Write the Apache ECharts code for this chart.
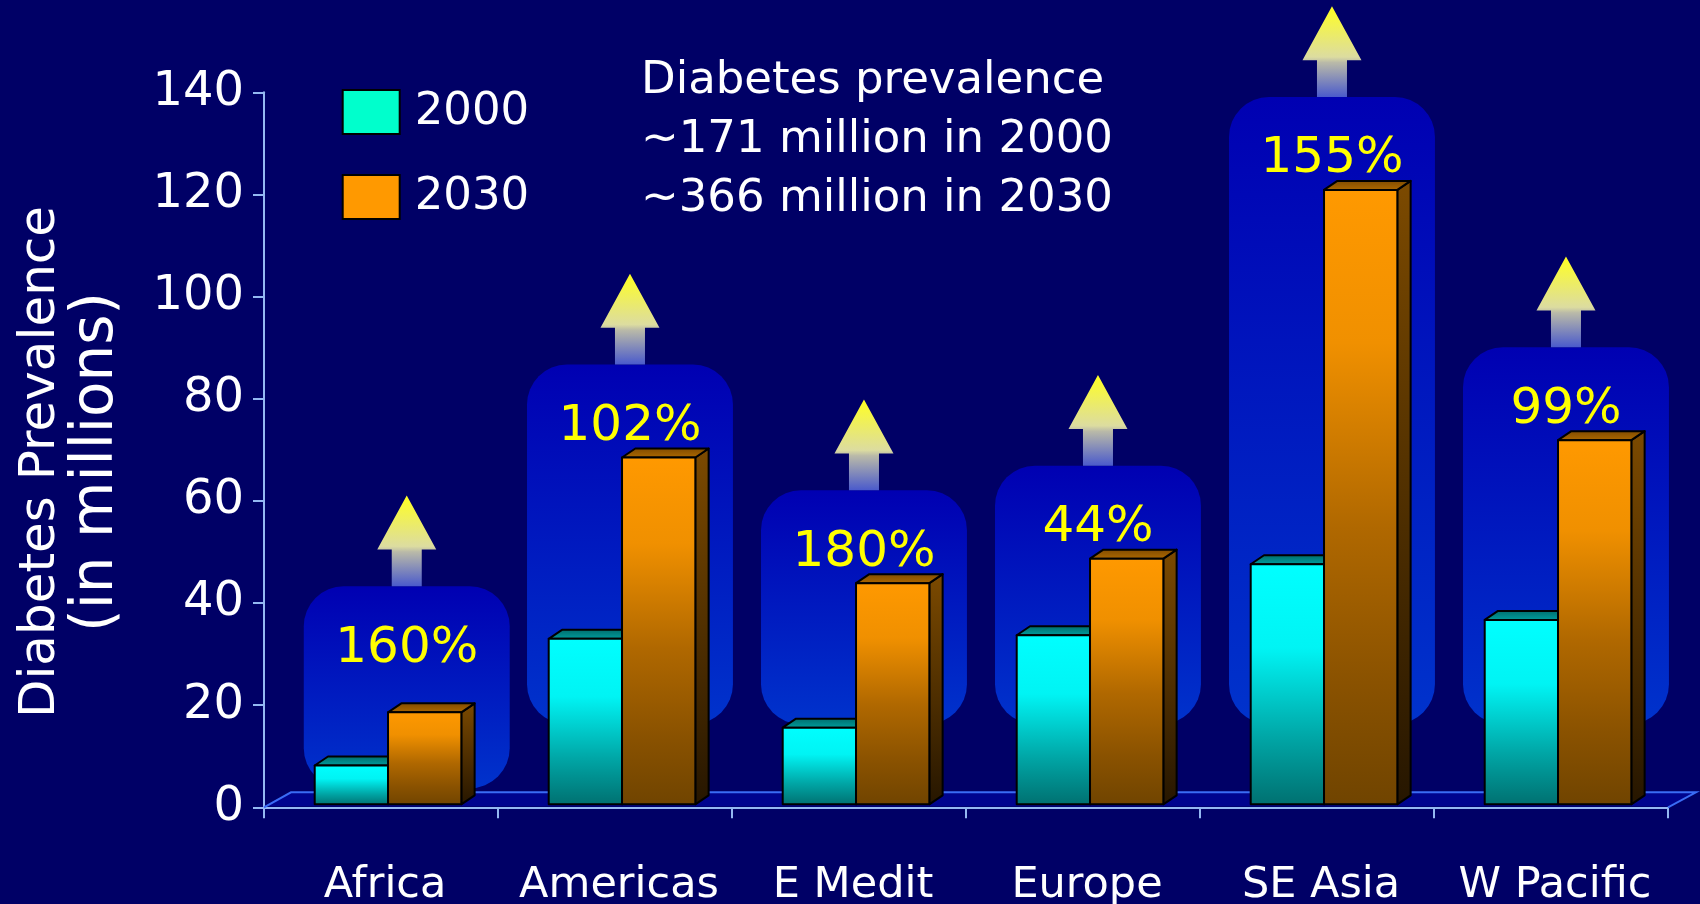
<!DOCTYPE html>
<html>
<head>
<meta charset="utf-8">
<title>Diabetes Prevalence 2000 vs 2030</title>
<script src="https://cdn.jsdelivr.net/npm/echarts@6.0.0/dist/echarts.min.js"></script>
<style>
  html, body { margin: 0; padding: 0; background: #000066; }
  #chart { width: 1700px; height: 904px; }
</style>
</head>
<body>
<div id="chart"></div>
<script>
// Regional diabetes prevalence, millions of people
const regions = ['Africa', 'Americas', 'E Medit', 'Europe', 'SE Asia', 'W Pacific'];
const prevalence2000 = [7.6, 32.4, 15.0, 33.1, 47.0, 36.1];
const prevalence2030 = [18.0, 67.9, 43.3, 48.1, 120.3, 71.3];
const increaseLabels = ['160%', '102%', '180%', '44%', '155%', '99%'];
const yTicks = { min: 0, max: 140, step: 20 };

const FONT = "'DejaVu Sans', Verdana, sans-serif";
const AXIS_BLUE = '#94b8f2';
const FLOOR_EDGE = '#3a6cf5';

// pseudo-3D geometry (pixels)
const FACE_LIFT = 3;       // bar front face sits slightly behind the floor edge
const BAR_DX = 13.3, BAR_DY = 9;
const FLOOR_DX = 27, FLOOR_DY = 15;

const chart = echarts.init(document.getElementById('chart'), null, { renderer: 'canvas' });

function lg(stops) {
  return new echarts.graphic.LinearGradient(0, 0, 0, 1,
    stops.map(s => ({ offset: s[0], color: s[1] })));
}

const barStyles = [
  {
    front: [[0, '#00ffff'], [0.35, '#00f4f4'], [0.72, '#00a6a6'], [1, '#007070']],
    top: [[0, '#006a6a'], [1, '#00a0a0']],
    side: [[0, '#006060'], [1, '#002020']]
  },
  {
    front: [[0, '#ff9900'], [0.25, '#f09000'], [0.55, '#b06800'], [0.8, '#8a5200'], [1, '#704400']],
    top: [[0, '#7e4a00'], [1, '#b06a00']],
    side: [[0, '#7c4a00'], [1, '#261600']]
  }
];

function makeBarRenderer(slot) {
  const st = barStyles[slot];
  return function (params, api) {
    const ci = api.value(0);
    const v = api.value(1);
    const zero = api.coord([ci, 0]);
    const topPt = api.coord([ci, v]);
    const band = api.size([1, 0])[0];
    const w = band * 0.3133;
    const shift = band * 0.03;
    const x0 = zero[0] + shift + (slot === 0 ? -w : 0);
    const x1 = x0 + w;
    const yb = zero[1] - FACE_LIFT;
    const yt = topPt[1] - FACE_LIFT;
    const stroke = { stroke: '#000', lineWidth: 2, lineJoin: 'round' };
    return {
      type: 'group',
      children: [
        {
          type: 'polygon',
          shape: { points: [[x1, yt], [x1 + BAR_DX, yt - BAR_DY], [x1 + BAR_DX, yb - BAR_DY], [x1, yb]] },
          style: Object.assign({ fill: lg(st.side) }, stroke)
        },
        {
          type: 'polygon',
          shape: { points: [[x0, yt], [x0 + BAR_DX, yt - BAR_DY], [x1 + BAR_DX, yt - BAR_DY], [x1, yt]] },
          style: Object.assign({ fill: lg(st.top) }, stroke)
        },
        {
          type: 'rect',
          shape: { x: x0, y: yt, width: w, height: yb - yt },
          style: Object.assign({ fill: lg(st.front) }, stroke)
        }
      ]
    };
  };
}

// floor plane under the bars
function renderFloor(params, api) {
  const cs = params.coordSys;
  const xl = cs.x, xr = cs.x + cs.width, yf = cs.y + cs.height;
  const yk = yf - FLOOR_DY;
  return {
    type: 'group',
    children: [
      {
        type: 'polygon',
        shape: { points: [[xl, yf - 1], [xl + FLOOR_DX, yk], [xr + FLOOR_DX + 1, yk], [xr, yf - 1]] },
        style: { fill: '#00048e' }
      },
      {
        type: 'polyline',
        shape: { points: [[xl, yf], [xl + FLOOR_DX, yk], [xr + FLOOR_DX + 1, yk], [xr, yf]] },
        style: { stroke: FLOOR_EDGE, lineWidth: 2, fill: null }
      }
    ]
  };
}

// rounded growth panels with arrow and percentage
function renderCallout(params, api) {
  const ci = api.value(0);
  const v = api.value(1);
  const peak = api.coord([ci, v]);
  const zero = api.coord([ci, 0]);
  const band = api.size([1, 0])[0];
  const base = zero[1] - FACE_LIFT;
  const boxTop = Math.min(peak[1] - FACE_LIFT - 93, base - 218);
  const boxBottom = Math.max(boxTop + 202, base - 80);
  // short panels sit a little further right
  const cx = peak[0] + band * (boxBottom - boxTop < 210 ? 0.11 : 0.064);
  const halfW = band * 0.44;
  const headBase = boxTop - 36.7;
  const tip = boxTop - 90.7;
  return {
    type: 'group',
    children: [
      {
        type: 'rect',
        shape: { x: cx - halfW, y: boxTop, width: halfW * 2, height: boxBottom - boxTop, r: 40 },
        style: { fill: lg([[0, '#0000b2'], [1, '#0033cc']]) }
      },
      {
        type: 'polygon',
        shape: {
          points: [[cx, tip], [cx + 29.5, headBase], [cx + 15, headBase], [cx + 15, boxTop],
                   [cx - 15, boxTop], [cx - 15, headBase], [cx - 29.5, headBase]]
        },
        style: { fill: lg([[0, '#ffff22'], [0.56, '#dcdca0'], [0.62, '#babaa8'], [1, '#4a5acc']]) }
      },
      {
        type: 'text',
        x: cx,
        y: boxTop + 62.5,
        style: {
          text: increaseLabels[params.dataIndex],
          fill: '#ffff00',
          font: '50px ' + FONT,
          align: 'center',
          verticalAlign: 'middle'
        }
      }
    ]
  };
}

const option = {
  backgroundColor: '#000066',
  animation: false,
  grid: { left: 264, right: 32, top: 92.3, bottom: 96.7, outerBoundsMode: 'none' },
  legend: {
    orient: 'vertical',
    left: 341.7,
    top: 89,
    padding: 0,
    itemWidth: 57,
    itemHeight: 44,
    itemGap: 39,
    icon: 'rect',
    selectedMode: false,
    data: [
      { name: '2000', itemStyle: { color: '#00ffcc', borderColor: '#000', borderWidth: 2 } },
      { name: '2030', itemStyle: { color: '#ff9900', borderColor: '#000', borderWidth: 2 } }
    ],
    textStyle: { color: '#ffffff', fontSize: 45, fontFamily: FONT, lineHeight: 44, padding: [0, 0, 0, 10] }
  },
  xAxis: {
    type: 'category',
    data: regions,
    axisLine: { show: true, lineStyle: { color: AXIS_BLUE, width: 2 } },
    axisTick: { show: true, interval: 0, length: 11, lineStyle: { color: AXIS_BLUE, width: 2 } },
    axisLabel: { interval: 0, color: '#ffffff', fontSize: 43, fontFamily: FONT, margin: 57, padding: [0, 0, 0, 8] },
    splitLine: { show: false }
  },
  yAxis: {
    type: 'value',
    min: yTicks.min,
    max: yTicks.max,
    interval: yTicks.step,
    axisLine: { show: true, lineStyle: { color: AXIS_BLUE, width: 2 } },
    axisTick: { show: true, length: 11, lineStyle: { color: AXIS_BLUE, width: 2 } },
    axisLabel: { color: '#ffffff', fontSize: 48, fontFamily: FONT, margin: 20, padding: [8, 0, 0, 0] },
    splitLine: { show: false }
  },
  graphic: [
    {
      type: 'text',
      x: 41,
      y: 462,
      rotation: Math.PI / 2,
      style: {
        text: 'Diabetes Prevalence',
        fill: '#ffffff',
        font: '50px ' + FONT,
        align: 'center',
        verticalAlign: 'middle'
      }
    },
    {
      type: 'text',
      x: 97,
      y: 462,
      rotation: Math.PI / 2,
      style: {
        text: '(in millions)',
        fill: '#ffffff',
        font: '58px ' + FONT,
        align: 'center',
        verticalAlign: 'middle'
      }
    },
    {
      type: 'text',
      left: 641,
      top: 52,
      style: {
        text: 'Diabetes prevalence\n~171 million in 2000\n~366 million in 2030',
        fill: '#ffffff',
        font: '45px ' + FONT,
        lineHeight: 59
      }
    }
  ],
  series: [
    {
      type: 'custom',
      name: 'floor',
      silent: true,
      clip: false,
      renderItem: renderFloor,
      data: [[0, 0]],
      z: 1
    },
    {
      type: 'custom',
      name: 'growth',
      silent: true,
      clip: false,
      renderItem: renderCallout,
      data: prevalence2030.map((v, i) => [i, v]),
      z: 2
    },
    {
      type: 'custom',
      name: '2000',
      clip: false,
      itemStyle: { color: '#00ffcc' },
      renderItem: makeBarRenderer(0),
      data: prevalence2000.map((v, i) => [i, v]),
      z: 3
    },
    {
      type: 'custom',
      name: '2030',
      clip: false,
      itemStyle: { color: '#ff9900' },
      renderItem: makeBarRenderer(1),
      data: prevalence2030.map((v, i) => [i, v]),
      z: 4
    }
  ]
};

chart.setOption(option);
</script>
</body>
</html>
